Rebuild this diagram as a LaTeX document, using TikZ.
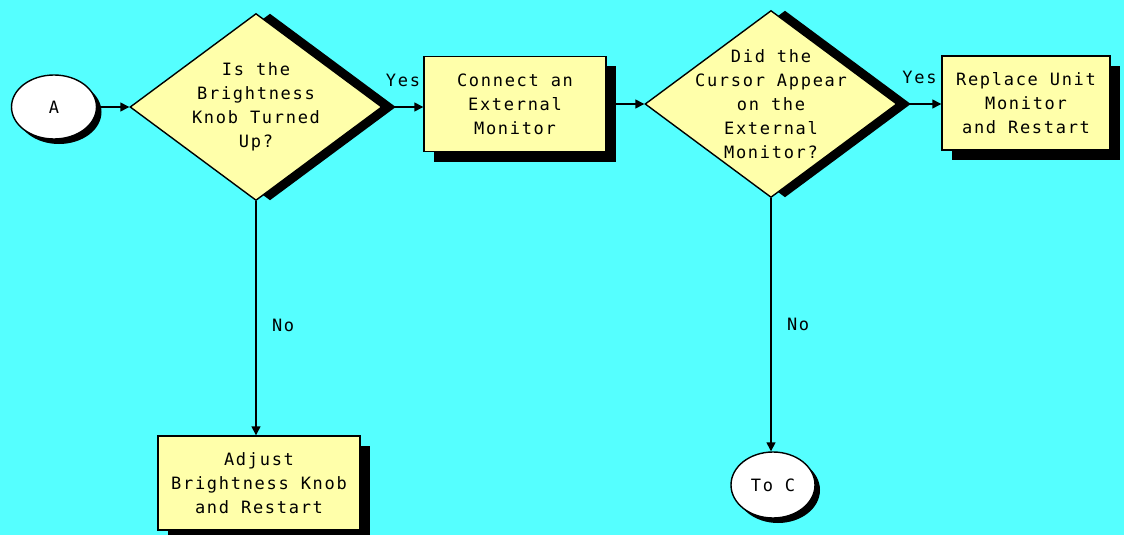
\documentclass[tikz,border=0pt]{standalone}
\usepackage{fontspec}
\newfontfamily\chartfont{DejaVu Sans Mono}[LetterSpace=10]
\usetikzlibrary{shapes.geometric,shadows,arrows.meta}
\definecolor{screen}{RGB}{85,255,255}
\definecolor{pad}{RGB}{255,255,170}

\begin{document}
\begin{tikzpicture}[x=1pt, y=-1pt, line width=1.4pt,
    every node/.style={font=\chartfont\fontsize{17}{24}\selectfont, align=center},
    stepbox/.style={draw, fill=pad, inner sep=0pt,
      drop shadow={shadow xshift=10pt, shadow yshift=-10pt, fill=black, opacity=1}},
    query/.style={draw, fill=pad, shape=diamond, inner sep=0pt,
      minimum width=252pt, minimum height=187pt,
      drop shadow={shadow xshift=14pt, shadow yshift=0pt, fill=black, opacity=1}},
    terminal/.style={draw, fill=white, ellipse, inner sep=0pt,
      minimum width=85pt, minimum height=64pt,
      drop shadow={shadow xshift=5pt, shadow yshift=-5pt, fill=black, opacity=1}},
    flow/.style={-{Triangle[length=9pt,width=9pt]}}]
      \fill[screen] (0,0) rectangle (1124,535);
      \useasboundingbox (0,0) rectangle (1124,535);

      \draw (54,107) node[terminal] (A) {A};
      \draw (256,107) node[query, label={center:{Is the\\Brightness\\Knob Turned\\Up?}}] (knob) {};
      \draw (515,104) node[stepbox, minimum width=182pt, minimum height=95pt] (ext) {Connect an\\External\\Monitor};
      \draw (771,104) node[query, label={center:{Did the\\Cursor Appear\\on the\\External\\Monitor?}}] (cursor) {};
      \draw (1026,103) node[stepbox, minimum width=168pt, minimum height=94pt] (repl) {Replace Unit\\Monitor\\and Restart};
      \draw (259,483) node[stepbox, minimum width=202pt, minimum height=94pt] (adj) {Adjust\\Brightness Knob\\and Restart};
      \draw (773,485) node[terminal, minimum width=84pt, minimum height=66pt] (toC) {To C};

      \draw[flow] (A) -- (knob);
      \draw[flow] (knob) -- (knob -| ext.west) node[midway, above=16pt] {Yes};
      \draw[flow] (ext) -- (cursor);
      \draw[flow] (cursor) -- (cursor -| repl.west) node[midway, above=16pt] {Yes};

      \draw[flow] (knob) -- (knob |- adj.north) node[pos=0.53, right=12pt] {No};
      \draw[flow] (cursor) -- (cursor |- toC.north) node[pos=0.5, right=12pt] {No};
\end{tikzpicture}
\end{document}
